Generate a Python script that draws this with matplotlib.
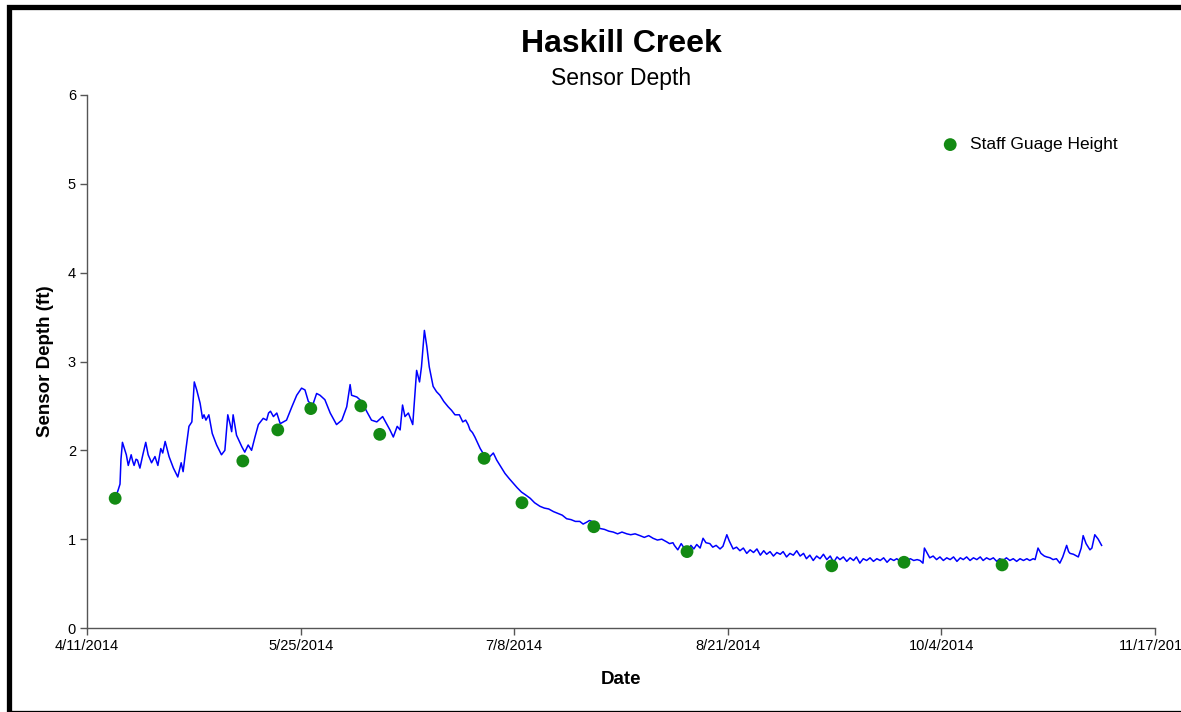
import pandas as pd
import matplotlib
matplotlib.use("Agg")
import matplotlib.pyplot as plt
from matplotlib.patches import Rectangle

plt.rcParams["font.family"] = ["Liberation Sans", "DejaVu Sans"]

# ── Data (days after 4/11/2014, depth in ft) ─────────────────────
start = pd.Timestamp("2014-04-11")

sensor_days = [
    5.8, 6.2, 6.4, 6.8, 7.0, 7.3, 7.7, 8.1, 8.5, 9.1, 9.4, 9.7, 10.1, 10.4, 10.9,
    11.5, 12.1, 12.6, 13.3, 14.0, 14.6, 15.2, 15.6, 16.1, 16.9, 17.8, 18.7, 19.4,
    19.8, 20.3, 21.0, 21.6, 22.1, 22.6, 23.3, 23.8, 24.1, 24.5, 25.1, 25.8, 26.7,
    27.7, 28.4, 29.0, 29.5, 29.8, 30.1, 30.8, 31.9, 32.5, 33.2, 33.9, 34.6, 35.3,
    36.3, 37.0, 37.4, 37.8, 38.4, 39.1, 39.8, 41.1, 42.2, 43.2, 44.2, 44.9, 45.6,
    46.5, 47.3, 48.0, 49.0, 50.1, 51.4, 52.5, 53.5, 54.2, 54.5, 55.6, 56.6, 57.6,
    58.6, 59.7, 60.9, 61.7, 62.4, 63.1, 63.9, 64.5, 65.0, 65.5, 66.2, 67.1, 67.6,
    67.9, 68.5, 68.9, 69.5, 70.0, 70.5, 71.3, 72.0, 72.7, 73.5, 74.4, 75.1, 75.8,
    76.7, 77.4, 78.0, 78.5, 78.9, 79.4, 79.9, 80.5, 81.0, 82.0, 83.0, 83.7, 84.4,
    85.2, 86.1, 87.0, 87.8, 88.6, 89.5, 90.3, 91.3, 92.2, 93.3, 94.2, 95.1, 96.1,
    97.0, 97.9, 98.8, 99.7, 100.6, 101.5, 102.2, 102.9, 103.5, 104.0, 104.8,
    105.7, 106.6, 107.5, 108.4, 109.3, 110.2, 111.2, 112.0, 112.9, 113.9, 114.8,
    115.7, 116.6, 117.5, 118.4, 119.4, 120.0, 120.7,
    121.0, 121.7, 122.4, 123.0, 123.7, 124.4, 125.0, 125.6, 126.3, 126.9, 127.5,
    128.3, 128.9, 129.6, 130.4, 131.0, 131.8, 132.3, 133.1, 133.8, 134.5, 135.2,
    135.9, 136.6, 137.3, 138.0, 138.7, 139.4, 140.0, 140.7, 141.4, 142.1, 142.8,
    143.4, 144.1, 144.8, 145.5, 146.2, 146.9, 147.6, 148.2, 148.9, 149.6, 150.3,
    151.0, 151.7, 152.4, 153.1, 153.8, 154.5, 155.1, 155.8, 156.5, 157.2, 157.9,
    158.5, 159.2, 159.9, 160.6, 161.3, 162.0, 162.7, 163.4, 164.1, 164.8, 165.5,
    166.2, 166.8, 167.5, 168.2, 168.9, 169.6, 170.3, 171.0, 171.6, 172.2, 172.5,
    172.9, 173.6, 174.3, 175.0, 175.7, 176.4, 177.1, 177.8, 178.5, 179.2, 179.9,
    180.5, 181.2, 181.9, 182.6, 183.3, 184.0, 184.6, 185.3, 186.0, 186.7, 187.4,
    188.0, 188.7, 189.4, 190.1, 190.8, 191.5, 192.2, 192.9, 193.6, 194.2, 194.9,
    195.3, 195.9, 196.5, 197.2, 197.7, 198.4, 199.0, 199.7, 200.4, 201.0, 201.8,
    202.2, 202.5, 203.2, 204.2, 204.8, 205.2, 205.8, 206.6, 207.0, 207.6, 208.3,
    209.0,
]
sensor_depth = [
    1.50, 1.52, 1.55, 1.62, 1.90, 2.09, 2.02, 1.95, 1.83, 1.95, 1.88, 1.83, 1.90, 1.89, 1.80,
    1.95, 2.09, 1.95, 1.86, 1.93, 1.83, 2.02, 1.97, 2.10, 1.93, 1.80, 1.70, 1.86,
    1.76, 1.98, 2.27, 2.32, 2.77, 2.68, 2.53, 2.36, 2.40, 2.34, 2.40, 2.19, 2.06,
    1.95, 2.00, 2.40, 2.29, 2.21, 2.40, 2.17, 2.04, 1.98, 2.06, 2.00, 2.15, 2.29,
    2.36, 2.34, 2.42, 2.44, 2.38, 2.42, 2.30, 2.34, 2.49, 2.62, 2.70, 2.68, 2.55,
    2.51, 2.64, 2.62, 2.57, 2.42, 2.29, 2.34, 2.49, 2.74, 2.62, 2.60, 2.55, 2.44,
    2.34, 2.32, 2.38, 2.30, 2.23, 2.15, 2.27, 2.23, 2.51, 2.38, 2.42, 2.29, 2.68,
    2.90, 2.77, 2.94, 3.35, 3.17, 2.94, 2.72, 2.66, 2.62, 2.55, 2.49, 2.45, 2.40,
    2.40, 2.32, 2.34, 2.29, 2.23, 2.20, 2.15, 2.08, 2.02, 1.93, 1.93, 1.97, 1.89,
    1.82, 1.74, 1.68, 1.63, 1.58, 1.53, 1.50, 1.46, 1.41, 1.37, 1.35, 1.34, 1.31,
    1.29, 1.27, 1.23, 1.22, 1.20, 1.20, 1.17, 1.19, 1.21, 1.20, 1.15,
    1.12, 1.11, 1.09, 1.08, 1.06, 1.08, 1.06, 1.05, 1.06, 1.04, 1.02,
    1.04, 1.01, 0.99, 1.00, 0.97, 0.95, 0.96,
    0.93, 0.88, 0.95, 0.90, 0.86, 0.93, 0.89, 0.94, 0.90, 1.01, 0.96,
    0.95, 0.91, 0.93, 0.89, 0.92, 1.05, 0.98, 0.89, 0.91, 0.87, 0.90,
    0.84, 0.88, 0.85, 0.89, 0.82, 0.87, 0.83, 0.86, 0.81, 0.85, 0.83,
    0.86, 0.80, 0.84, 0.82, 0.87, 0.81, 0.84, 0.78, 0.82, 0.76, 0.81,
    0.78, 0.83, 0.77, 0.81, 0.74, 0.80, 0.77, 0.80, 0.75, 0.79, 0.76,
    0.80, 0.73, 0.78, 0.76, 0.79, 0.75, 0.78, 0.76, 0.79, 0.74, 0.78,
    0.76, 0.78, 0.75, 0.77, 0.76, 0.78, 0.76, 0.77, 0.76, 0.73, 0.90,
    0.86, 0.79, 0.81, 0.77, 0.80, 0.76, 0.79, 0.77, 0.80, 0.75, 0.79,
    0.77, 0.80, 0.76, 0.79, 0.77, 0.80, 0.76, 0.79, 0.77, 0.79, 0.75,
    0.78, 0.76, 0.79, 0.76, 0.78, 0.75, 0.78, 0.76, 0.78, 0.76, 0.78,
    0.77, 0.90, 0.84, 0.81, 0.80, 0.79, 0.77, 0.78, 0.73, 0.80, 0.93,
    0.86, 0.84, 0.83, 0.80, 0.90, 1.04, 0.95, 0.88, 0.90, 1.05, 1.00,
    0.93,
]

staff_days = [5.8, 32.1, 39.3, 46.1, 56.4, 60.3, 81.8, 89.6, 104.4, 123.6, 153.4, 168.3, 188.5]
staff_height = [1.46, 1.88, 2.23, 2.47, 2.50, 2.18, 1.91, 1.41, 1.14, 0.86, 0.70, 0.74, 0.71]

tick_dates = ["2014-04-11", "2014-05-25", "2014-07-08", "2014-08-21", "2014-10-04", "2014-11-17"]
tick_labels = ["4/11/2014", "5/25/2014", "7/8/2014", "8/21/2014", "10/4/2014", "11/17/2014"]


def main():
    sensor_x = start + pd.to_timedelta(sensor_days, unit="D")
    staff_x = start + pd.to_timedelta(staff_days, unit="D")

    fig = plt.figure(figsize=(11.81, 7.12), dpi=100)
    ax = fig.add_axes([87 / 1181, 1 - 628 / 712, (1155 - 87) / 1181, (628 - 95) / 712])

    ax.plot(sensor_x, sensor_depth, color="#0000FF", linewidth=1.1)
    ax.scatter(staff_x, staff_height, s=85, color="#138A13", zorder=3,
               label="Staff Guage Height", edgecolors="none")

    ax.set_xlim(pd.Timestamp(tick_dates[0]), pd.Timestamp(tick_dates[-1]))
    ax.set_ylim(0, 6)
    ax.set_xticks([pd.Timestamp(d) for d in tick_dates])
    ax.set_xticklabels(tick_labels)
    ax.set_yticks(range(7))

    ax.tick_params(axis="both", labelsize=10.5, color="#555555", length=5,
                   width=1, direction="out", pad=3)
    for side in ["top", "right"]:
        ax.spines[side].set_visible(False)
    for side in ["left", "bottom"]:
        ax.spines[side].set_color("#555555")
        ax.spines[side].set_linewidth(1)

    ax.set_xlabel("Date", fontsize=13.5, fontweight="bold", labelpad=13)
    ax.set_ylabel("Sensor Depth (ft)", fontsize=13.5, fontweight="bold", labelpad=10)

    fig.text(621 / 1181, 1 - 44 / 712, "Haskill Creek", ha="center", va="center",
             fontsize=23, fontweight="bold")
    fig.text(621 / 1181, 1 - 78.5 / 712, "Sensor Depth", ha="center", va="center",
             fontsize=16.5)

    ax.legend(loc="center left", bbox_to_anchor=(0.792, 0.907), frameon=False,
              fontsize=12.5, handletextpad=0.15, borderpad=0, borderaxespad=0)

    # Outer frame
    fig.add_artist(Rectangle((8.5 / 1181, (712 - 713) / 712), (1190 - 8.5) / 1181,
                             (713 - 6.5) / 712, transform=fig.transFigure,
                             fill=False, edgecolor="black", linewidth=3.8,
                             clip_on=False))

    plt.savefig("out.png", dpi=100)
    plt.close()


if __name__ == "__main__":
    main()
